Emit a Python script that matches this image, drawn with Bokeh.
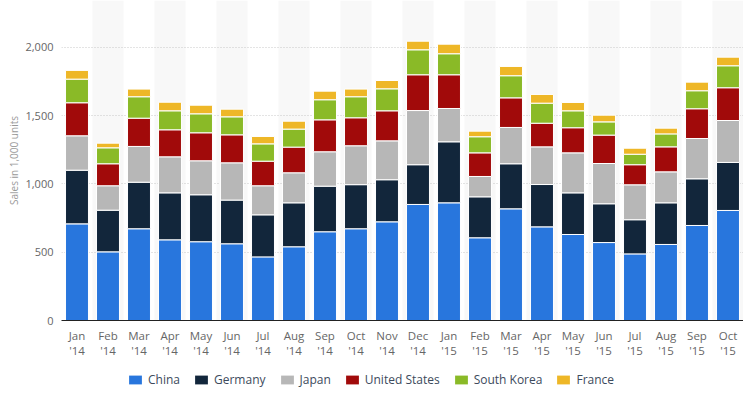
from bokeh.plotting import figure
from bokeh.layouts import column
from bokeh.models import FactorRange, Range1d, FixedTicker, NumeralTickFormatter, Legend, LegendItem, ColumnDataSource
from bokeh.embed import file_html
from bokeh.resources import INLINE

months = ["Jan\n'14", "Feb\n'14", "Mar\n'14", "Apr\n'14", "May\n'14", "Jun\n'14", "Jul\n'14",
          "Aug\n'14", "Sep\n'14", "Oct\n'14", "Nov\n'14", "Dec\n'14", "Jan\n'15", "Feb\n'15",
          "Mar\n'15", "Apr\n'15", "May\n'15", "Jun\n'15", "Jul\n'15", "Aug\n'15", "Sep\n'15", "Oct\n'15"]

china = [708, 503, 672, 591, 577, 562, 466, 540, 650, 672, 723, 850, 862, 606, 818, 686, 630, 571, 488, 557, 696, 806]
germany = [393, 305, 341, 344, 344, 320, 308, 322, 334, 323, 308, 291, 447, 300, 330, 310, 305, 284, 250, 305, 342, 352]
japan = [252, 179, 262, 264, 249, 273, 213, 220, 252, 285, 285, 397, 244, 149, 266, 276, 293, 295, 256, 227, 295, 307]
united_states = [242, 161, 207, 198, 205, 205, 180, 188, 234, 205, 220, 262, 247, 173, 217, 173, 184, 208, 147, 183, 218, 240]
south_korea = [173, 117, 157, 139, 139, 132, 127, 132, 147, 154, 161, 183, 154, 118, 162, 147, 124, 97, 77, 95, 132, 161]
france = [64, 34, 56, 63, 63, 56, 54, 58, 63, 56, 61, 63, 70, 41, 68, 64, 61, 49, 44, 42, 63, 63]

series_names = ["China", "Germany", "Japan", "United States", "South Korea", "France"]
series_keys = ["china", "germany", "japan", "us", "sk", "france"]
colors = ["#2876dd", "#12263b", "#b7b7b7", "#a10a0a", "#8aba27", "#eeb727"]

y_max = 2344

source = ColumnDataSource(dict(month=months, china=china, germany=germany, japan=japan,
                               us=united_states, sk=south_korea, france=france))

p = figure(x_range=FactorRange(*months, range_padding=0), y_range=Range1d(0, y_max),
           width=743, height=367, output_backend="svg", toolbar_location=None,
           min_border_left=61, min_border_right=0, min_border_top=0, min_border_bottom=47)
p.outline_line_color = None
p.background_fill_color = "white"

# alternating background bands
band_months = months[1::2]
bands = p.vbar(x=band_months, top=y_max, bottom=0, width=1.0, fill_color="#f8f8f8", line_color=None)
bands.level = "image"

renderers = p.vbar_stack(series_keys, x="month", width=0.74, color=colors, source=source,
                         line_color="white", line_width=1)

p.ygrid.grid_line_color = "#c8c8c8"
p.ygrid.grid_line_dash = "1 2"
p.ygrid.ticker = FixedTicker(ticks=[500, 1000, 1500, 2000])
p.xgrid.grid_line_color = None

p.yaxis.ticker = FixedTicker(ticks=[0, 500, 1000, 1500, 2000])
p.yaxis.formatter = NumeralTickFormatter(format="0,0")
p.yaxis.axis_line_color = None
p.yaxis.major_tick_line_color = None
p.yaxis.minor_tick_line_color = None
p.yaxis.major_tick_out = 0
p.yaxis.major_tick_in = 0
p.yaxis.minor_tick_out = 0
p.yaxis.major_label_text_font = "Open Sans"
p.yaxis.major_label_text_font_size = "11px"
p.yaxis.major_label_text_color = "#666666"
p.yaxis.major_label_standoff = 8
p.yaxis.axis_label = "Sales in 1,000 units"
p.yaxis.axis_label_text_font = "Open Sans"
p.yaxis.axis_label_text_font_size = "10px"
p.yaxis.axis_label_text_font_style = "normal"
p.yaxis.axis_label_text_color = "#999999"
p.yaxis.axis_label_standoff = 1

p.xaxis.axis_line_color = "#222222"
p.xaxis.axis_line_width = 1
p.xaxis.major_tick_line_color = None
p.xaxis.minor_tick_line_color = None
p.xaxis.major_tick_out = 0
p.xaxis.major_tick_in = 0
p.xaxis.minor_tick_out = 0
p.xaxis.major_label_text_font = "Open Sans"
p.xaxis.major_label_text_font_size = "11.5px"
p.xaxis.major_label_text_line_height = 1.0
p.xaxis.major_label_text_color = "#666666"
p.xaxis.major_label_standoff = 7

# legend strip
lg = figure(width=743, height=26, output_backend="svg", toolbar_location=None,
            x_range=Range1d(0, 1), y_range=Range1d(0, 1),
            min_border_left=0, min_border_right=0, min_border_top=0, min_border_bottom=0)
lg.axis.visible = False
lg.grid.visible = False
lg.outline_line_color = None
swatches = [lg.vbar(x=[0.5], bottom=[0.5], top=[0.5], width=0.001, fill_color=c, line_color=None)
            for c in colors]

legend = Legend(items=[LegendItem(label=n, renderers=[r]) for n, r in zip(series_names, swatches)],
                orientation="horizontal", location=(66, 5))
legend.label_text_font = "Open Sans"
legend.label_text_font_size = "12px"
legend.label_text_color = "#3c4a5c"
legend.glyph_width = 16
legend.glyph_height = 11
legend.label_standoff = 5
legend.spacing = 13
legend.padding = 0
legend.margin = 0
legend.border_line_color = None
legend.background_fill_alpha = 0
lg.add_layout(legend, "center")

layout = column(p, lg, spacing=0)
open("out.html", "w").write(file_html(layout, INLINE))
